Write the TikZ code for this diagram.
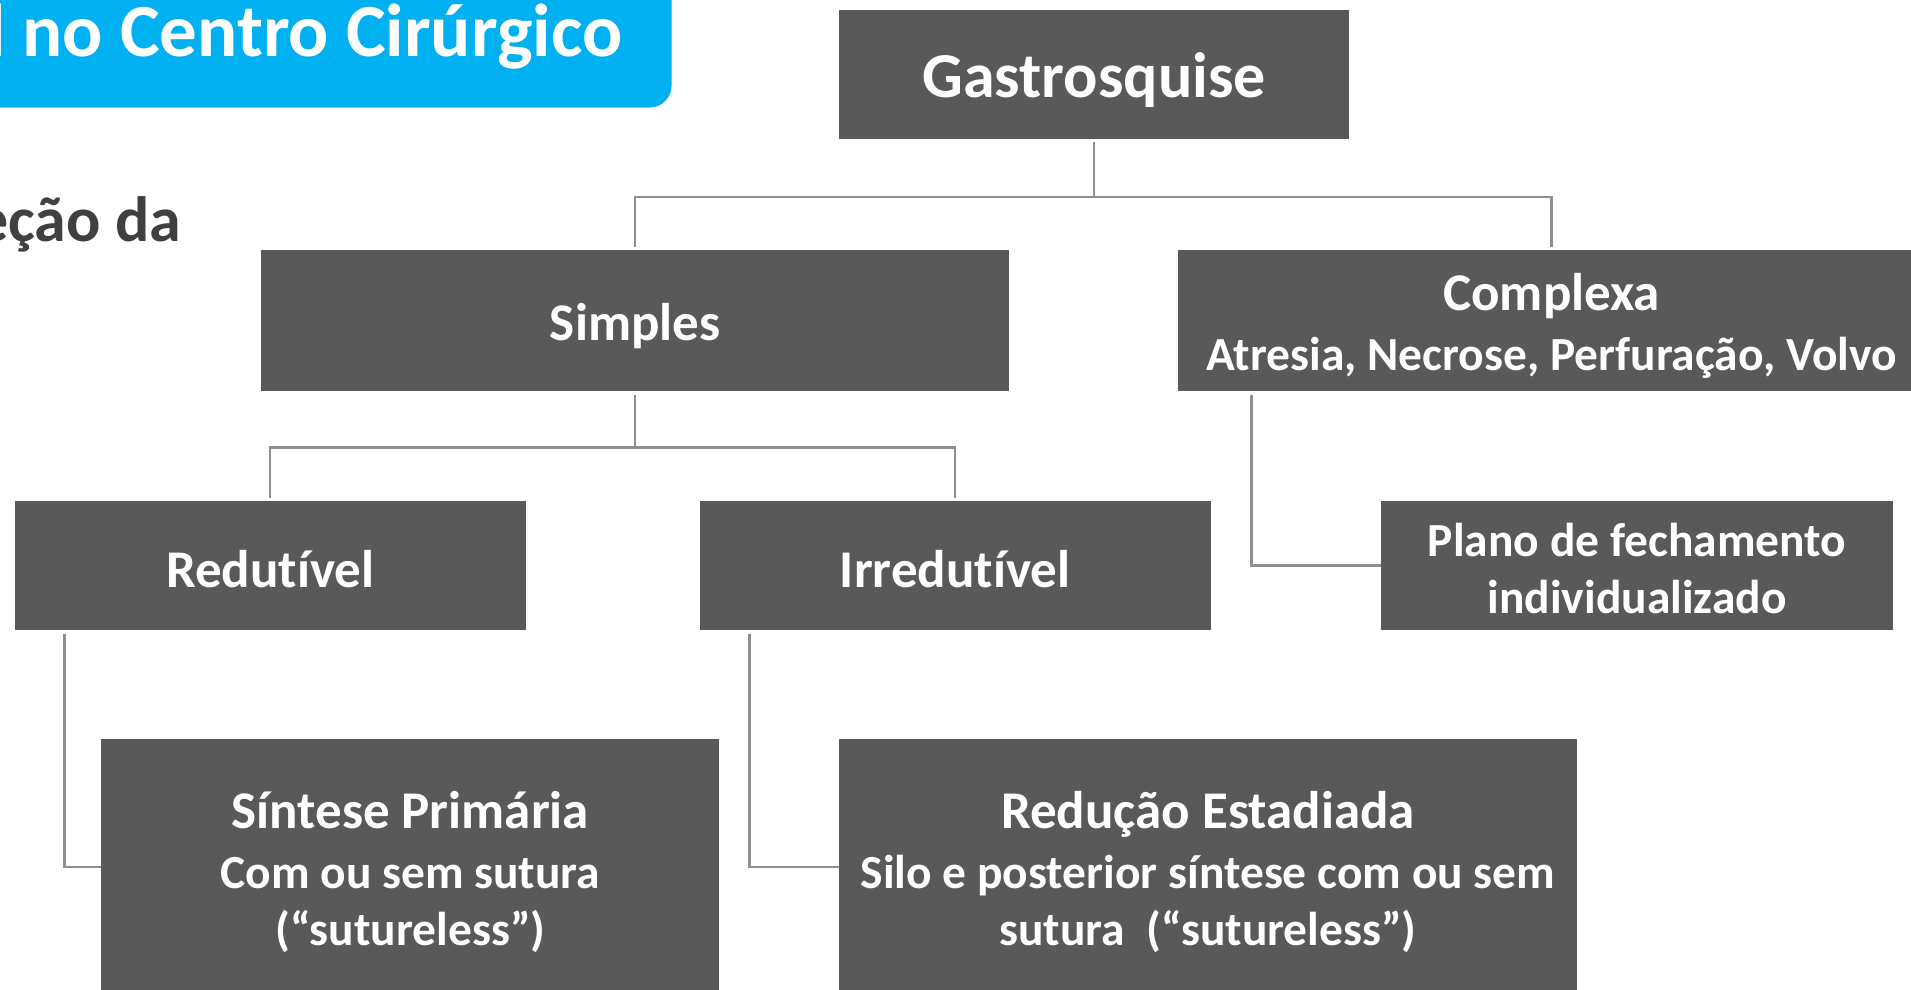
\documentclass[tikz,border=0pt]{standalone}
\usepackage{fontspec}
\setmainfont{Carlito}[RawFeature={-liga;-clig;-dlig}]
\definecolor{boxgray}{HTML}{595959}
\definecolor{linegray}{HTML}{8F8F8F}
\definecolor{bannerblue}{HTML}{00B0F0}
\definecolor{darktext}{HTML}{404040}
\newcommand{\hdsize}{\fontsize{53}{62}\selectfont}
\newcommand{\dn}[2][5pt]{\raisebox{-#1}[\height][\depth]{#2}}
\begin{document}
\begin{tikzpicture}[x=1pt,y=-1pt,
  box/.style={fill=boxgray, text=white, inner sep=0pt, align=center, anchor=north west},
  conn/.style={draw=linegray, line width=2.5pt},
  fbig/.style={font=\bfseries\fontsize{64}{70}\selectfont},
  fmid/.style={font=\bfseries\fontsize{53}{62}\selectfont},
  fmulti/.style={font=\bfseries\fontsize{47.5}{57}\selectfont}
]
\useasboundingbox (0,0) rectangle (1911,990);
% banner
\fill[bannerblue, rounded corners=22pt] (-40,-40) rectangle (671.6,107.5);
\node[anchor=base west, inner sep=0pt, text=white, font=\bfseries\fontsize{75}{80}\selectfont] (title) at (-13,56.7) {l no Centro Cirúrgico};
\node[anchor=base east, inner sep=0pt, text=darktext, font=\bfseries\fontsize{64}{70}\selectfont] (sub) at (181.5,241.7) {eção da};

% boxes
\node[box, fbig, minimum width=510.7pt, minimum height=129.2pt] (g) at (838.5,9.75) {\dn[6pt]{Gastrosquise}};
\node[box, fmid, minimum width=748.4pt, minimum height=141.3pt] (s) at (260.8,249.9) {\dn{Simples}};
\node[box, fmulti, minimum width=748.2pt, minimum height=141.3pt] (c) at (1177.4,249.9)
  {{\hdsize\dn{Complexa}}\\[3pt]\dn{Atresia, Necrose, Perfuração, Volvo}};
\node[box, fmid, minimum width=510.7pt, minimum height=129.2pt] (r) at (14.6,500.9) {\dn[3pt]{Redutível}};
\node[box, fmid, minimum width=510.7pt, minimum height=129.2pt] (i) at (699.6,500.9) {\dn[3pt]{Irredutível}};
\node[box, fmulti, minimum width=511.9pt, minimum height=129.2pt] (p) at (1380.9,500.9) {\dn[3pt]{Plano de fechamento}\\\dn[3pt]{individualizado}};
\node[box, fmulti, minimum width=617.9pt, minimum height=256pt] (sp) at (101.2,738.6)
  {{\hdsize\dn{Síntese Primária}}\\[3pt]\dn{Com ou sem sutura}\\\dn{(“sutureless”)}};
\node[box, fmulti, minimum width=738.6pt, minimum height=256pt] (rs) at (838.5,738.6)
  {{\hdsize\dn{Redução Estadiada}}\\[3pt]\dn{Silo e posterior síntese com ou sem}\\\dn{sutura\ \ (“sutureless”)}};

% connectors
\draw[conn] ([yshift=-3pt]g.south) -- ++(0,54.5) -| ([yshift=3pt]s.north);
\draw[conn] ([yshift=-3pt]g.south) ++(0,54.5) -| ([yshift=3pt]c.north);
\draw[conn] ([yshift=-3pt]s.south) -- ++(0,53) -| ([yshift=3pt]r.north);
\draw[conn] ([yshift=-3pt]s.south) ++(0,53) -| ([yshift=3pt]i.north);
\draw[conn] ([xshift=74.3pt,yshift=-3pt]c.south west) |- (p.west);
\draw[conn] ([xshift=50pt,yshift=-3pt]r.south west) |- (sp.west);
\draw[conn] ([xshift=50pt,yshift=-3pt]i.south west) |- (rs.west);
\end{tikzpicture}
\end{document}
